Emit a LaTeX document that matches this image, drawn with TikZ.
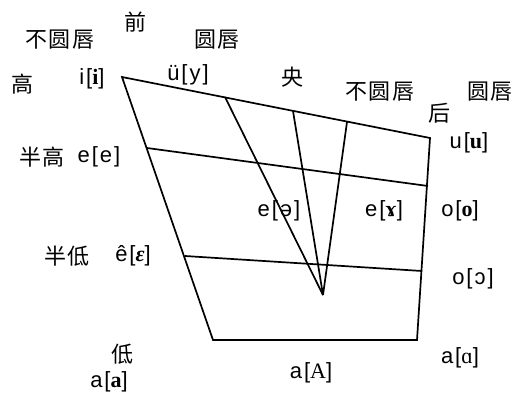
\documentclass[tikz,border=0pt]{standalone}
\usepackage{fontspec}
\setmainfont{Liberation Sans}[LetterSpace=9]
\newfontfamily\cjk{Noto Sans CJK SC}[LetterSpace=7]
\newfontfamily\ipafont{Liberation Serif}[LetterSpace=9]
\newcommand{\ip}[1]{{\ipafont\bfseries #1}}
\usetikzlibrary{positioning}

\begin{document}
\begin{tikzpicture}[x=1pt, y=-1pt,
  lbl/.style  = {inner sep=0pt, font=\fontsize{22}{24}\selectfont},
  zh/.style   = {inner sep=0pt, font=\cjk\fontsize{22}{24}\selectfont},
  edge/.style = {line width=1.7pt, line join=miter}
]
\useasboundingbox (0,0) rectangle (513,398);

% -- corners of the vowel chart --
\coordinate (hif)  at (122,77);
\coordinate (hib)  at (430,138);
\coordinate (lob)  at (417,340);
\coordinate (lof)  at (213,340);
\coordinate (mhf)  at (147,148);
\coordinate (mhb)  at (428,186);
\coordinate (mlf)  at (185,256);
\coordinate (mlb)  at (422,271);
\coordinate (ytop) at (225,97);
\coordinate (ctop) at (293,111);
\coordinate (btop) at (347,122);
\coordinate (apex) at (323,295);

% -- outline and levels --
\draw[edge] (hif) -- (hib) -- (lob) -- (lof) -- cycle;
\draw[edge] (mhf) -- (mhb);
\draw[edge] (mlf) -- (mlb);

% -- central lines --
\draw[edge] (ytop) -- (apex);
\draw[edge] (ctop) -- (apex);
\draw[edge] (btop) -- (apex);

% -- header labels --
\node[zh] (front)  at (135,22)  {前};
\node[zh] (funr)   at (60,40)   {不圆唇};
\node[zh] (frnd)   at (217,40)  {圆唇};
\node[zh] (cent)   at (292,77)  {央};
\node[zh] (bunr)   at (380,92)  {不圆唇};
\node[zh] (brnd)   at (490,92)  {圆唇};
\node[zh] (back)   at (439,113) {后};

% -- height labels --
\node[zh] (high)   at (22,84)   {高};
\node[zh] (mhigh)  at (42,157)  {半高};
\node[zh] (mlow)   at (67,256)  {半低};
\node[zh] (low)    at (122,354) {低};

% -- vowels --
\node[lbl] (vi)    at (92,79)   {i[\ip{i}]};
\node[lbl] (vy)    at (188,75)  {ü[y]};
\node[lbl] (vu)    at (469,143) {u[\ip{u}]};
\node[lbl] (ve)    at (99,157)  {e[e]};
\node[lbl] (vschwa) at (279,211) {e[ə]};
\node[lbl] (vgam)  at (384,211) {e[\ip{ɤ}]};
\node[lbl] (vo)    at (460,211) {o[\ip{o}]};
\node[lbl] (veps)  at (133,256) {ê[\ip{\itshape ɛ}]};
\node[lbl] (vopen) at (473,279) {o[ɔ]};
\node[lbl] (vafr)  at (109,382) {a[\ip{a}]};
\node[lbl] (vacen) at (311,373) {a[{\ipafont A}]};
\node[lbl] (vabk)  at (460,358) {a[{\ipafont ɑ}]};

\end{tikzpicture}
\end{document}
